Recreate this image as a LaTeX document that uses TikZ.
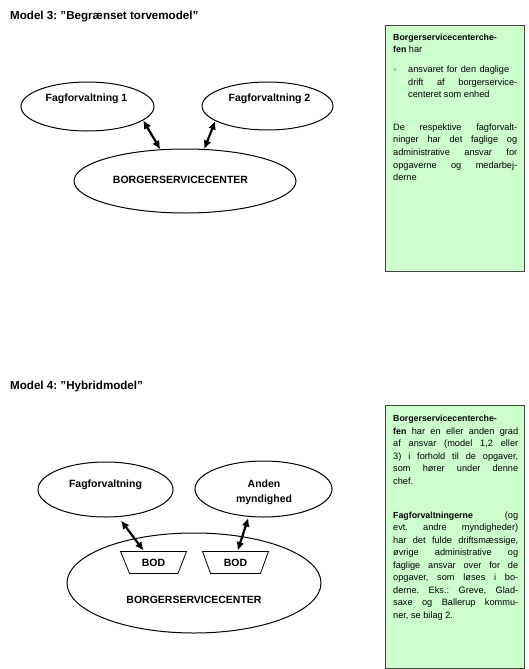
\documentclass[tikz,border=0pt]{standalone}
\usepackage{fontspec}
\setmainfont{Liberation Sans}
\usetikzlibrary{shapes.geometric,arrows.meta,calc}
\definecolor{boxfill}{RGB}{204,255,204}
\definecolor{boxline}{RGB}{64,72,64}
\newcommand{\jl}[2][125pt]{\makebox[#1][s]{#2}}
\newcommand{\bw}[1]{{\fontsize{8.8}{12.6}\selectfont\bfseries #1}}
\frenchspacing
\begin{document}
\begin{tikzpicture}[x=1pt,y=-1pt,
  ell/.style={draw,ellipse,line width=1pt,inner sep=0pt},
  lbl/.style={font=\fontsize{10.5}{15.7}\selectfont\bfseries,inner sep=0pt},
  titletext/.style={font=\fontsize{11.6}{14}\selectfont\bfseries,inner sep=0pt,anchor=base west},
  arr/.style={line width=2.2pt,{Latex[length=8.5pt,width=8pt]}-{Latex[length=8.5pt,width=8pt]}},
  infobox/.style={draw=boxline,fill=boxfill,line width=1.2pt,inner sep=0pt,anchor=north west},
  boxtext/.style={inner sep=0pt,anchor=north west,align=left},
  bodbox/.style={minimum width=65.5pt,minimum height=21.6pt,inner sep=0pt,
    font=\fontsize{10.5}{12}\selectfont\bfseries},
  trap/.style={line width=0.8pt}
]
\useasboundingbox (0,0) rectangle (529,669);

% ---------------- Model 3 ----------------
\node[titletext] (t3) at (10,19.2) {Model 3: ”Begrænset torvemodel”};

\node[ell,minimum width=133pt,minimum height=49pt] (f1) at (87.5,106.5) {};
\node[lbl,anchor=base] (f1t) at ([shift={(-1,-5)}]f1.center) {Fagforvaltning 1};
\node[ell,minimum width=131pt,minimum height=48pt] (f2) at (267.5,106) {};
\node[lbl,anchor=base] (f2t) at ([shift={(2,-4.5)}]f2.center) {Fagforvaltning 2};
\node[ell,minimum width=222pt,minimum height=64pt] (bsc) at (185,181) {};
\node[lbl,anchor=base] (bsct) at ([shift={(-4.5,2.1)}]bsc.center) {BORGERSERVICECENTER};

\draw[arr] (f1.-14) -- (bsc.128);
\draw[arr] (f2.196.7) -- (bsc.59.4);

\node[infobox,minimum width=139pt,minimum height=246pt] (box3) at (385,25) {};
\node[boxtext,font=\fontsize{9.2}{12.7}\selectfont] (txt3) at (393,33.5) {%
\bw{Borgerservicecenterche-}\\
\bw{fen} har\\[7pt]
\makebox[15pt][l]{\textcolor{gray}{\fontsize{7}{7}\selectfont +}}\jl[101pt]{ansvaret for den daglige}\\
\hspace*{15pt}\jl[109pt]{drift af borgerservice-}\\
\hspace*{15pt}centeret som enhed\\[19.6pt]
\jl[124pt]{De respektive fagforvalt-}\\
\jl[124pt]{ninger har det faglige og}\\
\jl[124pt]{administrative ansvar for}\\
\jl[124pt]{opgaverne og medarbej-}\\
derne};

% ---------------- Model 4 ----------------
\node[titletext] (t4) at (10,389.8) {Model 4: ”Hybridmodel”};

\node[ell,minimum width=135pt,minimum height=55pt] (fag) at (105.5,489.5) {};
\node[lbl,anchor=base] (fagt) at ([shift={(0,-1.7)}]fag.center) {Fagforvaltning};
\node[ell,minimum width=137pt,minimum height=56pt] (anden) at (263.5,489) {};
\node[lbl,anchor=north,align=center] (andent) at (264,479.4) {Anden\\myndighed};
\node[ell,minimum width=254pt,minimum height=100pt] (bsc2) at (194,583) {};
\node[lbl,anchor=base] (bsc2t) at ([shift={(0,20.8)}]bsc2.center) {BORGERSERVICECENTER};

\node[bodbox] (bod1) at (153.5,562.5) {BOD};
\draw[trap] (bod1.north west) -- (bod1.north east) -- ([xshift=-8.5pt]bod1.south east)
  -- ([xshift=9pt]bod1.south west) -- cycle;
\node[bodbox] (bod2) at (235.5,562.5) {BOD};
\draw[trap] (bod2.north west) -- (bod2.north east) -- ([xshift=-8pt]bod2.south east)
  -- ([xshift=8pt]bod2.south west) -- cycle;

\draw[arr] ([shift={(15.5,3)}]fag.south) -- ([shift={(-10,-1)}]bod1.north);
\draw[arr] ([shift={(-15.2,0.5)}]anden.south) -- ([shift={(2.2,-1)}]bod2.north);

\node[infobox,minimum width=139pt,minimum height=263pt] (box4) at (385,405) {};
\node[boxtext,font=\fontsize{9.2}{12.5}\selectfont] (txt4) at (393,415.1) {%
\bw{Borgerservicecenterche-}\\
\jl{\bw{fen} har en eller anden grad}\\
\jl{af ansvar (model 1,2 eller}\\
\jl{3) i forhold til de opgaver,}\\
\jl{som hører under denne}\\
chef.\\[21.8pt]
\jl{\bw{Fagforvaltningerne} (og}\\
\jl{evt. andre myndigheder)}\\
\jl{har det fulde driftsmæssige,}\\
\jl{øvrige administrative og}\\
\jl{faglige ansvar over for de}\\
\jl{opgaver, som løses i bo-}\\
\jl{derne. Eks.: Greve, Glad-}\\
\jl{saxe og Ballerup kommu-}\\
ner, se bilag 2.};
\end{tikzpicture}
\end{document}
